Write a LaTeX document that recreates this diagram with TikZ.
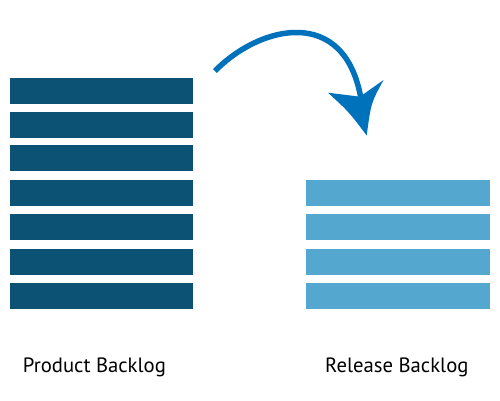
\documentclass[tikz,border=0pt]{standalone}
\usepackage{fontspec}
\setmainfont{PT Sans}
\definecolor{darkbar}{RGB}{11,82,116}
\definecolor{lightbar}{RGB}{84,168,208}
\definecolor{arrowblue}{RGB}{0,114,188}
\begin{document}
\begin{tikzpicture}[x=1pt,y=-1pt,
  bar/.style={inner sep=0pt,outer sep=0pt,minimum height=26pt,anchor=north west},
  darkrow/.style={bar,fill=darkbar,minimum width=183pt},
  lightrow/.style={bar,fill=lightbar,minimum width=184pt},
  lbl/.style={anchor=base west,inner sep=0pt,font=\fontsize{20.7}{24}\selectfont,text=black}]
\useasboundingbox (0,0) rectangle (500,400);
\fill[white] (0,0) rectangle (500,400);
\foreach \y [count=\i] in {78.3,111.5,145.3,180,214.3,249,283.3}
  \node[darkrow] (d\i) at (10,\y) {};
\foreach \y [count=\i] in {180,214.3,249,283.3}
  \node[lightrow] (l\i) at (306,\y) {};
\node[lbl] (pl) at (22.7,372.7) {Product Backlog};
\node[lbl] (rl) at (325,372.7) {Release Backlog};
\coordinate (as) at (215,71);
\coordinate (ae) at (361,99);
\draw[arrowblue,line width=5.5pt] (as) .. controls (260,25) and (345,5) .. (ae);
\fill[arrowblue] (328,92.7) -- (360,96.7) -- (383.5,80) .. controls (371,103) .. (366.7,135.5) .. controls (349,112) .. cycle;
\end{tikzpicture}
\end{document}
